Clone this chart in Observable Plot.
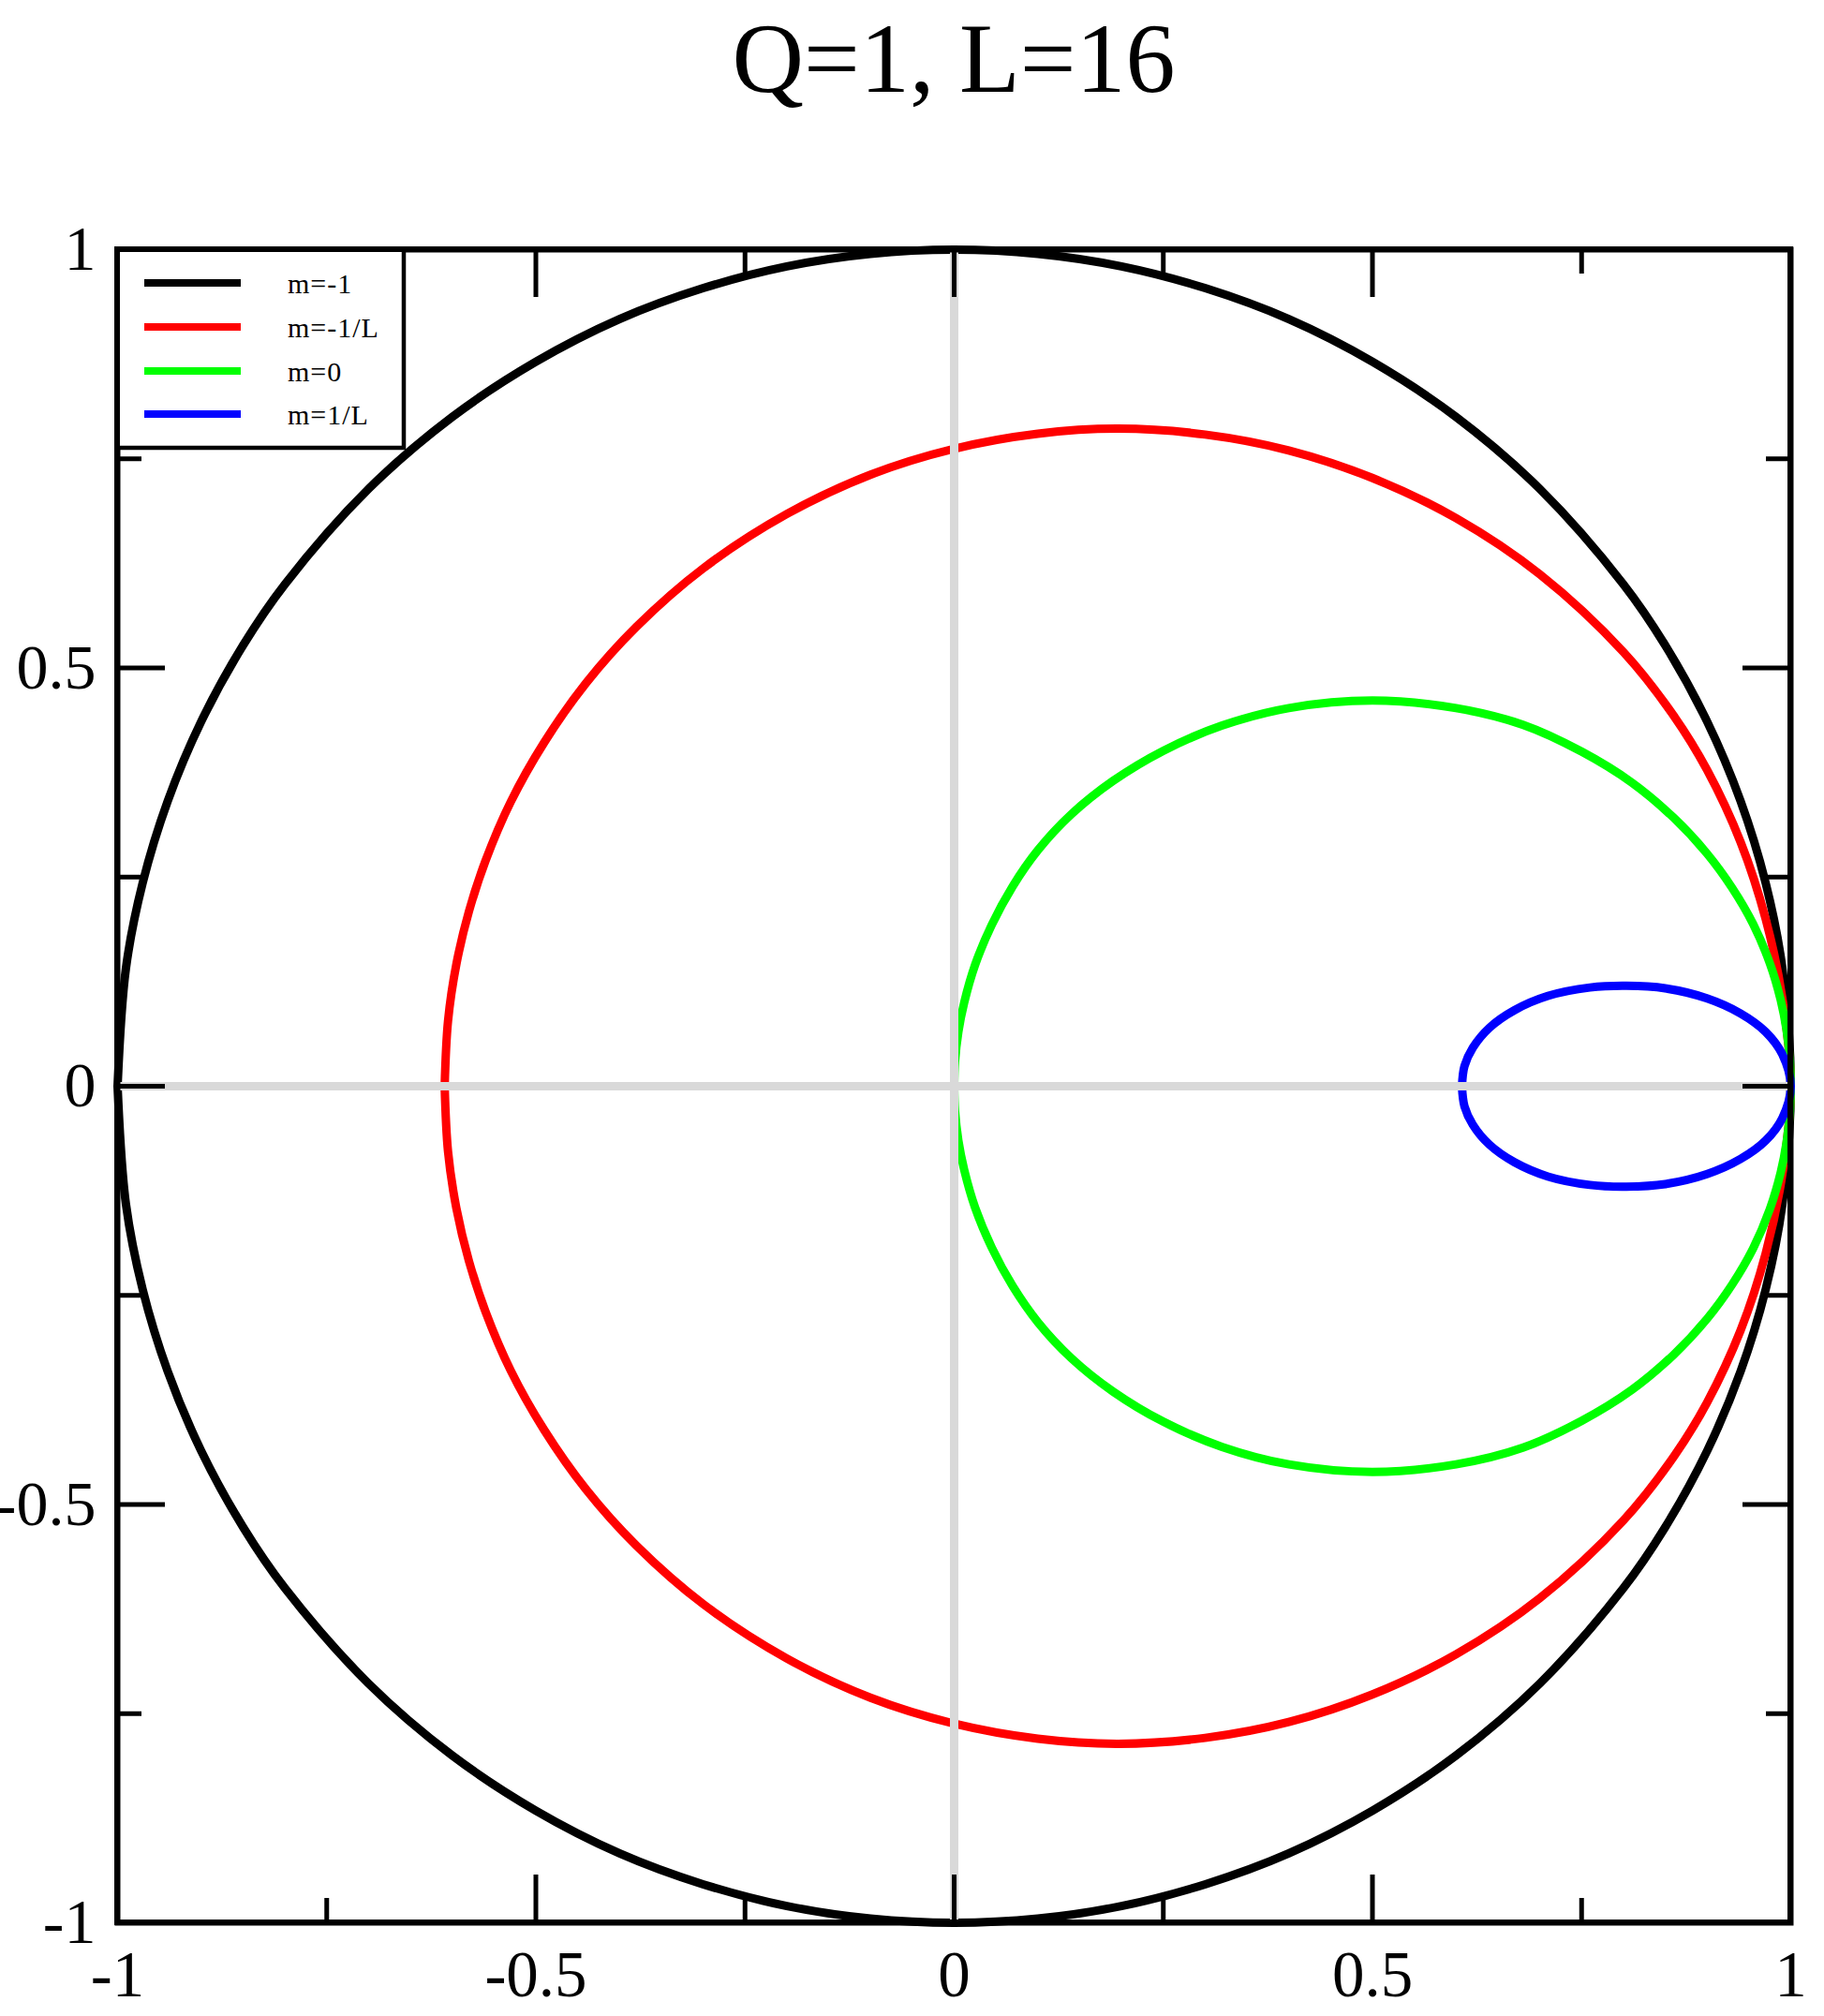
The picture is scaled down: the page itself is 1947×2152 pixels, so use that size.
<!DOCTYPE html>
<html>
<head>
<meta charset="utf-8">
<script src="https://cdn.jsdelivr.net/npm/d3@7"></script>
<script src="https://cdn.jsdelivr.net/npm/@observablehq/plot@0.6"></script>
<style>
  html, body { margin: 0; padding: 0; background: #fff; }
  #wrap { position: relative; width: 1947px; height: 2152px; overflow: hidden; background: #fff; }
  #wrap svg { position: absolute; left: 0; top: 0; }
</style>
</head>
<body>
<div id="wrap"></div>
<script>
// ---------------- data ----------------
const chartTitle = "Q=1, L=16";
const seriesNames = ["m=-1", "m=-1/L", "m=0", "m=1/L"];
const seriesColors = ["#000000", "#ff0000", "#00ff00", "#0000ff"];

// upper halves of each closed curve (the curves are symmetric about y = 0)
const blackX = [-1, -0.99, -0.97, -0.94, -0.9, -0.85, -0.8, -0.7, -0.6, -0.5, -0.4, -0.3, -0.2, -0.1, 0, 0.1, 0.2, 0.3, 0.4, 0.5, 0.6, 0.7, 0.8, 0.85, 0.9, 0.94, 0.97, 0.99, 1];
const blackY = [0, 0.141, 0.243, 0.341, 0.436, 0.527, 0.600, 0.714, 0.800, 0.866, 0.917, 0.954, 0.980, 0.995, 1.0, 0.995, 0.980, 0.954, 0.917, 0.866, 0.800, 0.714, 0.600, 0.527, 0.436, 0.341, 0.243, 0.141, 0];

const redX = [-0.609, -0.605, -0.595, -0.58, -0.56, -0.53, -0.49, -0.44, -0.38, -0.3, -0.2, -0.1, 0, 0.1, 0.196, 0.3, 0.4, 0.5, 0.6, 0.7, 0.8, 0.86, 0.9, 0.94, 0.97, 0.99, 1];
const redY = [0, 0.078, 0.146, 0.209, 0.270, 0.340, 0.411, 0.482, 0.549, 0.619, 0.684, 0.731, 0.762, 0.780, 0.786, 0.779, 0.760, 0.727, 0.679, 0.612, 0.519, 0.443, 0.378, 0.292, 0.200, 0.105, 0];

const greenX = [0, 0.001, 0.005, 0.012, 0.025, 0.045, 0.07, 0.1, 0.14, 0.19, 0.25, 0.32, 0.4, 0.5, 0.6, 0.68, 0.75, 0.81, 0.86, 0.9, 0.93, 0.955, 0.975, 0.988, 0.995, 0.999, 1];
const greenY = [0, 0.029, 0.065, 0.100, 0.145, 0.193, 0.239, 0.282, 0.325, 0.365, 0.401, 0.431, 0.452, 0.461, 0.452, 0.432, 0.400, 0.363, 0.321, 0.278, 0.237, 0.194, 0.147, 0.103, 0.067, 0.030, 0];

const blueX = [0.607, 0.61, 0.62, 0.64, 0.67, 0.71, 0.76, 0.8035, 0.85, 0.9, 0.94, 0.97, 0.99, 1];
const blueY = [0, 0.024, 0.046, 0.070, 0.091, 0.108, 0.118, 0.120, 0.117, 0.105, 0.087, 0.065, 0.038, 0];

const xTicks = [-1, -0.5, 0, 0.5, 1];
const xTickLabels = ["-1", "-0.5", "0", "0.5", "1"];
const yTicks = [-1, -0.5, 0, 0.5, 1];
const yTickLabels = ["-1", "-0.5", "0", "0.5", "1"];
const minorTicks = [-0.75, -0.25, 0.25, 0.75];

// ---------------- build closed loops ----------------
function loop(xs, ys, name) {
  const upper = xs.map((x, i) => ({x, y: ys[i], series: name}));
  const lower = upper.slice(0, -1).reverse().map(d => ({x: d.x, y: -d.y, series: name}));
  return upper.concat(lower);
}
const rows = [
  ...loop(blackX, blackY, seriesNames[0]),
  ...loop(redX, redY, seriesNames[1]),
  ...loop(greenX, greenY, seriesNames[2]),
  ...loop(blueX, blueY, seriesNames[3])
];

// ---------------- layout ----------------
const W = 1947, H = 2152;
const mL = 125, mR = 36, mT = 266, mB = 100;
const frameW = W - mL - mR, frameH = H - mT - mB;
const majorLen = 51, minorLen = 26;
const tickStyle = {stroke: "black", strokeWidth: 5};
const serif = "'Liberation Serif', 'Times New Roman', Times, serif";

const plot = Plot.plot({
  width: W, height: H,
  marginLeft: mL, marginRight: mR, marginTop: mT, marginBottom: mB,
  x: {domain: [-1, 1]},
  y: {domain: [-1, 1]},
  color: {domain: seriesNames, range: seriesColors},
  style: {background: "white", fontFamily: serif, color: "black"},
  marks: [
    Plot.line(rows, {x: "x", y: "y", z: "series", stroke: "series", strokeWidth: 9, curve: "catmull-rom"}),
    Plot.ruleX([0], {stroke: "#d9d9d9", strokeWidth: 9}),
    Plot.ruleY([0], {stroke: "#d9d9d9", strokeWidth: 9}),
    // major ticks, inward on all four sides
    Plot.tickX(xTicks, {x: d => d, insetTop: frameH - majorLen, ...tickStyle}),
    Plot.tickX(xTicks, {x: d => d, insetBottom: frameH - majorLen, ...tickStyle}),
    Plot.tickY(yTicks, {y: d => d, insetRight: frameW - majorLen, ...tickStyle}),
    Plot.tickY(yTicks, {y: d => d, insetLeft: frameW - majorLen, ...tickStyle}),
    // minor ticks
    Plot.tickX(minorTicks, {x: d => d, insetTop: frameH - minorLen, ...tickStyle}),
    Plot.tickX(minorTicks, {x: d => d, insetBottom: frameH - minorLen, ...tickStyle}),
    Plot.tickY(minorTicks, {y: d => d, insetRight: frameW - minorLen, ...tickStyle}),
    Plot.tickY(minorTicks, {y: d => d, insetLeft: frameW - minorLen, ...tickStyle}),
    Plot.axisX(xTicks, {anchor: "bottom", tickSize: 0, tickPadding: 29, fontSize: 69,
      tickFormat: d => xTickLabels[xTicks.indexOf(d)], label: null}),
    Plot.axisY(yTicks, {anchor: "left", tickSize: 0, tickPadding: 23, fontSize: 68,
      tickFormat: d => yTickLabels[yTicks.indexOf(d)], label: null}),
    Plot.frame({stroke: "black", strokeWidth: 6})
  ]
});

const wrap = document.getElementById("wrap");
wrap.appendChild(plot);

// ---------------- overlay: title + legend ----------------
const ns = "http://www.w3.org/2000/svg";
const ov = document.createElementNS(ns, "svg");
ov.setAttribute("width", W);
ov.setAttribute("height", H);
ov.style.pointerEvents = "none";
function el(tag, attrs, text) {
  const e = document.createElementNS(ns, tag);
  for (const k in attrs) e.setAttribute(k, attrs[k]);
  if (text != null) e.textContent = text;
  ov.appendChild(e);
  return e;
}
el("text", {x: mL + frameW / 2, y: 98, "text-anchor": "middle", "font-family": serif, "font-size": 106, fill: "black"}, chartTitle);

const lgX = mL, lgY = mT, lgW = 306, lgH = 212;
el("rect", {x: lgX, y: lgY, width: lgW, height: lgH, fill: "white", stroke: "black", "stroke-width": 4.5});
const rowY = [302, 349, 396, 442];
seriesNames.forEach((name, i) => {
  el("line", {x1: 154, x2: 257, y1: rowY[i], y2: rowY[i], stroke: seriesColors[i], "stroke-width": 8});
  el("text", {x: 307, y: rowY[i] + 11, "font-family": serif, "font-size": 30, "letter-spacing": "1px", fill: "black"}, name);
});
// redraw frame edges over legend
el("rect", {x: mL, y: mT, width: frameW, height: frameH, fill: "none", stroke: "black", "stroke-width": 6});
wrap.appendChild(ov);
</script>
</body>
</html>
